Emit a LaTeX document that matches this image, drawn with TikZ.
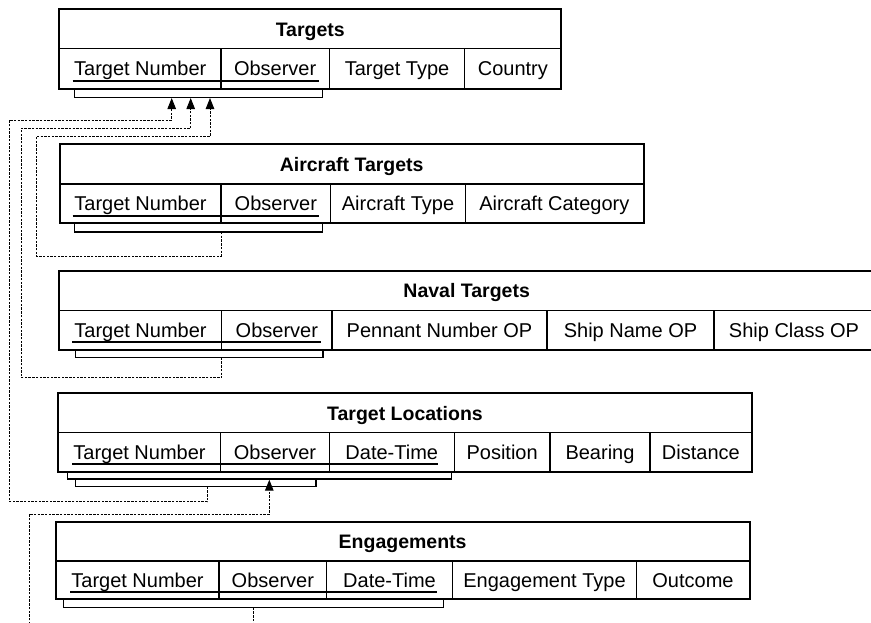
\documentclass[tikz,border=0pt]{standalone}
\usepackage{fontspec}
\setmainfont{Liberation Sans}
\usetikzlibrary{arrows.meta}
\newcommand\cellnode[7]{\node[#6, minimum width={(#4-#2)*1pt}, minimum height={(#5-#3)*1pt}] (#1) at ({(#2+#4)/2},{(#3+#5)/2}) {#7};}
\tikzset{
  cell/.style={draw, line width=1.2pt, inner sep=0pt, text height=14pt, text depth=0pt,
    font=\fontsize{20}{22}\selectfont},
  hdr/.style={cell, font=\fontsize{19.5}{22}\selectfont\bfseries},
  frame/.style={draw, line width=1.7pt},
  keyline/.style={line width=2pt},
  bracket/.style={line width=1.4pt},
  fk/.style={line width=1pt, dash pattern=on 2.4pt off 1.3pt},
  fkarrow/.style={fk, -{Triangle[length=11pt,width=8.5pt]}}
}
\begin{document}
\begin{tikzpicture}[x=1pt,y=-1pt]
\useasboundingbox (0,0) rectangle (871,622);
\fill[white] (0,0) rectangle (871,622);
\clip (0,0) rectangle (871,622);

% Targets
\cellnode{T}{59.5}{9.5}{561}{48.7}{hdr}{Targets}
\cellnode{T1}{59.5}{48.7}{221}{88.3}{cell}{Target Number}
\cellnode{T2}{221}{48.7}{329.3}{88.3}{cell}{Observer}
\cellnode{T3}{329.3}{48.7}{464.7}{88.3}{cell}{Target Type}
\cellnode{T4}{464.7}{48.7}{561}{88.3}{cell}{Country}
\draw[frame] (T.north west) rectangle (T4.south east);
\draw[keyline] (72.7,80.8) -- (319,80.8);
\draw[bracket] (74.7,88.3) |- (322.7,97.3) -- (322.7,88.3);
\coordinate (Tk1) at (171.7,98);
\coordinate (Tk2) at (190.7,98);
\coordinate (Tk3) at (210,98);

% Aircraft Targets
\cellnode{A}{60}{144}{643.3}{184}{hdr}{Aircraft Targets}
\cellnode{A1}{60}{184}{221}{223}{cell}{Target Number}
\cellnode{A2}{221}{184}{330.7}{223}{cell}{Observer}
\cellnode{A3}{330.7}{184}{465.3}{223}{cell}{Aircraft Type}
\cellnode{A4}{465.3}{184}{643.3}{223}{cell}{Aircraft Category}
\draw[frame] (A.north west) rectangle (A4.south east);
\draw[keyline] (72.7,215.5) -- (319,215.5);
\draw[bracket] (74.7,223) |- (322.7,232) -- (322.7,223);
\coordinate (Ak) at (221,232);

% Naval Targets
\cellnode{N}{59.3}{271}{874}{310.5}{hdr}{Naval Targets}
\cellnode{N1}{59.3}{310.5}{221.7}{349.5}{cell}{Target Number}
\cellnode{N2}{221.7}{310.5}{332}{349.5}{cell}{Observer}
\cellnode{N3}{332}{310.5}{547}{349.5}{cell}{Pennant Number OP}
\cellnode{N4}{547}{310.5}{714}{349.5}{cell}{Ship Name OP}
\cellnode{N5}{714}{310.5}{874}{349.5}{cell}{Ship Class OP}
\draw[frame] (N.north west) rectangle (N5.south east);
\draw[keyline] (72,342) -- (321,342);
\draw[bracket] (75.7,349.5) |- (323,357.7) -- (323,349.5);
\coordinate (Nk) at (221.7,357.7);

% Target Locations
\cellnode{L}{58.3}{393.5}{751.7}{432.5}{hdr}{Target Locations}
\cellnode{L1}{58.3}{432.5}{220.7}{471.5}{cell}{Target Number}
\cellnode{L2}{220.7}{432.5}{329.3}{471.5}{cell}{Observer}
\cellnode{L3}{329.3}{432.5}{454.3}{471.5}{cell}{Date-Time}
\cellnode{L4}{454.3}{432.5}{550}{471.5}{cell}{Position}
\cellnode{L5}{550}{432.5}{650}{471.5}{cell}{Bearing}
\cellnode{L6}{650}{432.5}{751.7}{471.5}{cell}{Distance}
\draw[frame] (L.north west) rectangle (L6.south east);
\draw[keyline] (72,464) -- (438.3,464);
\draw[bracket] (67.7,471.5) |- (451.7,479) -- (451.7,471.5);
\draw[bracket] (75.7,479) |- (316,486.7) -- (316,479);
\coordinate (Lk) at (207.3,486.7);
\coordinate (Lin) at (269.3,479.7);

% Engagements
\cellnode{E}{56}{522.5}{749.3}{561}{hdr}{Engagements}
\cellnode{E1}{56}{561}{219}{599}{cell}{Target Number}
\cellnode{E2}{219}{561}{326.7}{599}{cell}{Observer}
\cellnode{E3}{326.7}{561}{452.3}{599}{cell}{Date-Time}
\cellnode{E4}{452.3}{561}{636.7}{599}{cell}{Engagement Type}
\cellnode{E5}{636.7}{561}{749.3}{599}{cell}{Outcome}
\draw[frame] (E.north west) rectangle (E5.south east);
\draw[keyline] (70,591.5) -- (436.7,591.5);
\draw[bracket] (63.3,599) |- (443.3,607.7) -- (443.3,599);
\coordinate (Ek) at (253.3,607.7);
\coordinate (Eend) at (253.3,624);
\coordinate (Estart) at (29.3,624);

% foreign key connectors
\draw[fkarrow] (Ak) |- (36,256) |- (210,136.7) -- (Tk3);
\draw[fkarrow] (Nk) |- (21,377.7) |- (190.7,128.3) -- (Tk2);
\draw[fkarrow] (Lk) |- (9.3,501.7) |- (171.7,120) -- (Tk1);
\draw[fk] (Ek) -- (Eend);
\draw[fkarrow] (Estart) |- (269.3,514) -- (Lin);
\end{tikzpicture}
\end{document}
